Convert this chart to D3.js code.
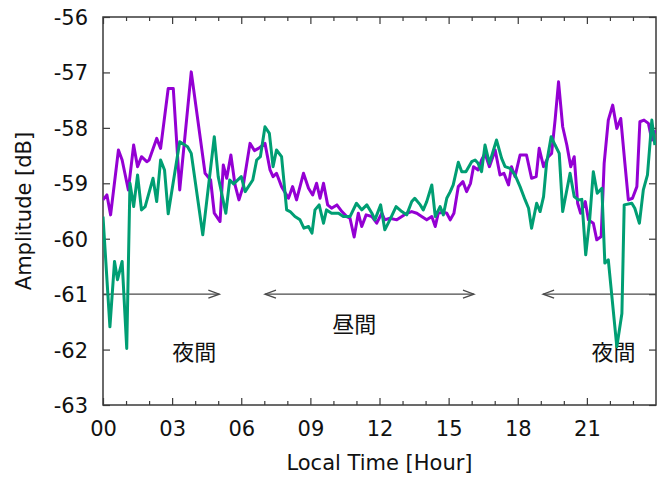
<!DOCTYPE html>
<html>
<head>
<meta charset="utf-8">
<script src="https://cdn.jsdelivr.net/npm/d3@7"></script>
<style>
  html, body { margin: 0; padding: 0; background: #fff; }
  svg { display: block; }
  text { font-family: "DejaVu Sans", sans-serif; fill: #111; }
  .cjk { font-family: "Noto Sans CJK JP", sans-serif; }
</style>
</head>
<body>
<svg id="chart" width="664" height="477"></svg>
<script>
// ---- data ----
const purpleHours = [0.00,0.17,0.33,0.67,0.83,1.10,1.33,1.50,1.67,1.90,2.00,2.33,2.50,2.83,3.05,3.33,3.83,4.43,4.67,4.83,5.08,5.22,5.37,5.55,5.73,5.90,6.08,6.38,6.57,6.75,7.03,7.25,7.38,7.53,7.75,8.05,8.23,8.40,8.70,8.92,9.10,9.27,9.42,9.57,9.75,9.92,10.15,10.37,10.58,10.72,10.90,11.08,11.23,11.42,11.67,11.88,12.10,12.23,12.45,12.75,12.97,13.18,13.40,13.62,13.83,14.05,14.27,14.42,14.55,14.77,14.92,15.07,15.23,15.42,15.62,15.78,15.95,16.08,16.28,16.43,16.58,16.77,17.02,17.23,17.40,17.60,17.73,17.88,18.10,18.38,18.60,18.80,18.93,19.12,19.33,19.47,19.62,19.77,19.95,20.13,20.30,20.45,20.60,20.73,20.93,21.07,21.28,21.43,21.62,21.75,21.93,22.12,22.30,22.47,22.65,22.80,22.98,23.17,23.30,23.48,23.67,23.82,23.95];
const purpleDb = [-59.30,-59.21,-59.57,-58.40,-58.58,-59.12,-58.31,-58.70,-58.52,-58.61,-58.58,-58.19,-58.37,-57.29,-57.29,-59.12,-56.99,-58.82,-58.94,-59.54,-59.69,-58.67,-58.91,-58.49,-59.03,-59.30,-59.06,-58.28,-58.41,-58.37,-58.28,-58.76,-58.88,-58.82,-59.06,-59.27,-59.06,-59.30,-58.82,-59.09,-59.21,-59.00,-59.27,-59.00,-59.39,-59.45,-59.39,-59.51,-59.60,-59.63,-59.97,-59.54,-59.78,-59.57,-59.60,-59.72,-59.54,-59.66,-59.63,-59.66,-59.60,-59.54,-59.51,-59.54,-59.60,-59.66,-59.60,-59.78,-59.54,-59.52,-59.54,-59.66,-59.54,-59.06,-58.97,-59.15,-59.00,-58.70,-58.76,-58.58,-58.46,-58.70,-58.40,-58.85,-58.82,-59.03,-58.70,-58.88,-58.49,-58.49,-58.91,-58.88,-58.37,-58.70,-58.52,-58.46,-57.86,-57.17,-57.98,-58.31,-58.70,-58.52,-59.36,-59.54,-59.33,-59.66,-59.72,-60.02,-59.96,-58.64,-57.86,-57.59,-58.01,-57.83,-58.64,-59.30,-59.27,-59.06,-57.89,-57.86,-57.92,-58.22,-58.04];

const greenHours = [0.00,0.30,0.50,0.63,0.83,1.03,1.17,1.33,1.50,1.67,1.83,2.17,2.33,2.50,2.67,2.83,3.33,3.67,3.83,4.33,4.83,5.00,5.33,5.50,5.67,6.00,6.17,6.50,6.67,6.83,7.03,7.22,7.38,7.53,7.75,7.97,8.12,8.33,8.55,8.72,8.92,9.07,9.20,9.38,9.57,9.70,9.92,10.22,10.43,10.72,11.00,11.23,11.45,11.67,11.80,12.05,12.23,12.45,12.72,12.97,13.18,13.40,13.53,13.77,13.90,14.05,14.27,14.42,14.63,14.77,14.92,15.07,15.20,15.42,15.57,15.75,16.00,16.15,16.28,16.43,16.58,16.77,17.08,17.30,17.45,17.67,17.88,18.10,18.32,18.47,18.60,18.82,18.97,19.12,19.25,19.45,19.62,19.80,19.95,20.27,20.45,20.63,20.78,20.95,21.12,21.28,21.45,21.65,21.78,21.93,22.30,22.52,22.62,22.95,23.08,23.28,23.45,23.63,23.82,23.95];
const greenDb = [-59.60,-61.59,-60.41,-60.74,-60.41,-61.98,-59.00,-59.42,-58.85,-59.48,-59.42,-58.91,-59.33,-58.58,-58.76,-59.55,-58.25,-58.34,-58.46,-59.93,-58.16,-58.88,-59.54,-58.94,-59.01,-58.88,-59.15,-58.94,-58.58,-58.52,-57.98,-58.10,-58.70,-58.40,-58.52,-59.48,-59.51,-59.60,-59.66,-59.81,-59.78,-59.90,-59.48,-59.39,-59.72,-59.48,-59.54,-59.54,-59.60,-59.60,-59.36,-59.48,-59.39,-59.54,-59.66,-59.39,-59.84,-59.66,-59.42,-59.51,-59.57,-59.33,-59.27,-59.39,-59.48,-59.33,-59.03,-59.60,-59.42,-59.57,-59.27,-59.15,-59.03,-58.62,-58.79,-58.79,-58.61,-58.58,-58.64,-58.79,-58.31,-58.64,-58.22,-58.55,-58.70,-58.73,-58.85,-59.06,-59.30,-59.45,-59.81,-59.36,-59.51,-59.24,-58.64,-58.16,-58.31,-58.46,-59.51,-58.82,-59.24,-59.30,-59.29,-60.29,-59.66,-58.79,-59.18,-59.09,-60.44,-60.38,-61.95,-61.35,-59.39,-59.36,-59.45,-59.72,-59.12,-58.85,-57.86,-58.31];

const xTickValues = [0, 3, 6, 9, 12, 15, 18, 21];
const xTickLabels = ["00", "03", "06", "09", "12", "15", "18", "21"];
const yTickValues = [-56, -57, -58, -59, -60, -61, -62, -63];

const arrowFrom = [0, 7.03, 24];
const arrowTo   = [5.05, 16.1, 19.1];
const arrowBoth = [false, true, false];
const arrowLevel = -61;

const noteText  = ["夜間", "昼間", "夜間"];
const noteHour  = [3.0, 9.95, 21.2];
const noteDb    = [-62, -61.5, -62];

// ---- layout ----
const W = 664, H = 477;
const m = { left: 103, right: 8, top: 17, bottom: 72 };
const svg = d3.select("#chart");

const x = d3.scaleLinear().domain([0, 24]).range([m.left, W - m.right]);
const y = d3.scaleLinear().domain([-63, -56]).range([H - m.bottom, m.top]);

const axisColor = "#3a3a3a";
const fs = 21;

// plot border
svg.append("rect")
  .attr("x", x(0)).attr("y", y(-56))
  .attr("width", x(24) - x(0)).attr("height", y(-63) - y(-56))
  .attr("fill", "none").attr("stroke", axisColor).attr("stroke-width", 1.5);

// ticks using d3 axes (inward), hide domain paths
const hourTicks = d3.range(0, 25, 1);
function tickAxis(axis, transform) {
  const g = svg.append("g").attr("transform", transform).call(axis);
  g.select(".domain").remove();
  g.selectAll(".tick line").attr("stroke", axisColor).attr("stroke-width", 1.2);
  return g;
}
// minor x ticks bottom/top
tickAxis(d3.axisBottom(x).tickValues(hourTicks.filter(h => h % 3 !== 0)).tickSize(-4).tickFormat(""), `translate(0,${y(-63)})`);
tickAxis(d3.axisTop(x).tickValues(hourTicks.filter(h => h % 3 !== 0)).tickSize(-4).tickFormat(""), `translate(0,${y(-56)})`);
// major x ticks bottom with labels
const gxb = tickAxis(d3.axisBottom(x).tickValues(xTickValues).tickSize(-7).tickPadding(0)
  .tickFormat((d, i) => xTickLabels[i]), `translate(0,${y(-63)})`);
gxb.selectAll(".tick text")
  .attr("y", 30.5).attr("dy", null)
  .style("font-family", "DejaVu Sans").style("font-size", fs + "px").attr("fill", "#111");
tickAxis(d3.axisTop(x).tickValues(xTickValues).tickSize(-7).tickFormat(""), `translate(0,${y(-56)})`);
// y ticks left/right
const gyl = tickAxis(d3.axisLeft(y).tickValues(yTickValues).tickSize(-7).tickFormat(d3.format("d")), `translate(${x(0)},0)`);
gyl.selectAll(".tick text")
  .attr("x", -15).attr("dy", "0.36em")
  .style("font-family", "DejaVu Sans").style("font-size", fs + "px").attr("fill", "#111")
  .text(d => String(d).replace("\u2212", "-"));
tickAxis(d3.axisRight(y).tickValues(yTickValues).tickSize(-7).tickFormat(""), `translate(${x(24)},0)`);

// axis titles
svg.append("text")
  .attr("x", (x(0) + x(24)) / 2).attr("y", 470)
  .attr("text-anchor", "middle").style("font-size", fs + "px")
  .text("Local Time [Hour]");
svg.append("text")
  .attr("transform", `translate(31,${(y(-56) + y(-63)) / 2}) rotate(-90)`)
  .attr("text-anchor", "middle").style("font-size", fs + "px")
  .text("Amplitude [dB]");

// arrows
const arrowColor = "#4a4a4a";
function head(tipH, dir) {
  const tx = x(tipH), ty = y(arrowLevel);
  const len = 11, half = 4;
  svg.append("path")
    .attr("d", `M${tx - dir * len},${ty - half}L${tx},${ty}L${tx - dir * len},${ty + half}`)
    .attr("fill", "none").attr("stroke", arrowColor).attr("stroke-width", 1.3);
}
arrowFrom.forEach((f, i) => {
  svg.append("line")
    .attr("x1", x(f)).attr("x2", x(arrowTo[i]))
    .attr("y1", y(arrowLevel)).attr("y2", y(arrowLevel))
    .attr("stroke", arrowColor).attr("stroke-width", 1.3);
  const dir = arrowTo[i] > f ? 1 : -1;
  head(arrowTo[i], dir);
  if (arrowBoth[i]) head(f, -dir);
});

// notes
noteText.forEach((t, i) => {
  svg.append("text").attr("class", "cjk")
    .attr("x", x(noteHour[i])).attr("y", y(noteDb[i]))
    .attr("dominant-baseline", "central")
    .style("font-size", "22px")
    .text(t);
});

// series lines
const line = d3.line().x(d => x(d[0])).y(d => y(d[1]));
svg.append("clipPath").attr("id", "plotclip")
  .append("rect").attr("x", x(0)).attr("y", y(-56)).attr("width", x(24) - x(0)).attr("height", y(-63) - y(-56));
svg.append("path")
  .datum(purpleHours.map((h, i) => [h, purpleDb[i]]))
  .attr("d", line).attr("fill", "none")
  .attr("stroke", "#9400d3").attr("stroke-width", 3).attr("stroke-linejoin", "round")
  .attr("clip-path", "url(#plotclip)");
svg.append("path")
  .datum(greenHours.map((h, i) => [h, greenDb[i]]))
  .attr("d", line).attr("fill", "none")
  .attr("stroke", "#009e73").attr("stroke-width", 3).attr("stroke-linejoin", "round")
  .attr("clip-path", "url(#plotclip)");
</script>
</body>
</html>
